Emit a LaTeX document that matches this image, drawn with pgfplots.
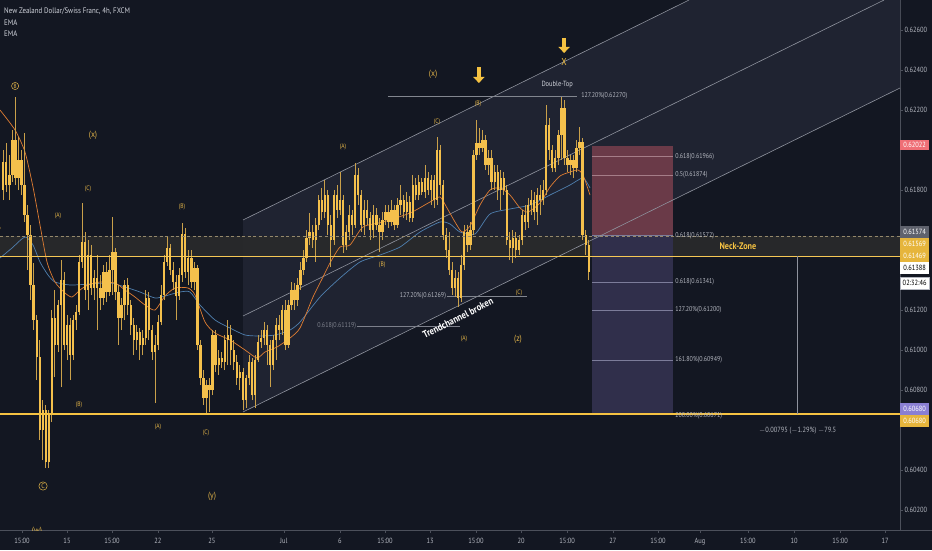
\documentclass[border=0pt]{standalone}
\usepackage{fontspec}
\setmainfont{PT Sans}[FakeStretch=0.86]
\usepackage{pgfplots}
\pgfplotsset{compat=1.18}
\usepackage{pgfplotstable}
\usetikzlibrary{arrows.meta}
\newcommand\fs[1]{\fontsize{#1}{#1}\selectfont}
\definecolor{bg}{HTML}{131722}
\definecolor{chan}{HTML}{1F2331}
\definecolor{band}{HTML}{2A2A2B}
\definecolor{gold}{HTML}{F5C242}
\definecolor{body}{HTML}{F4C04C}
\definecolor{wick}{HTML}{C9A04A}
\definecolor{ema1}{HTML}{E07D32}
\definecolor{ema2}{HTML}{4F7FAE}
\definecolor{chl}{HTML}{8F939E}
\definecolor{txt}{HTML}{D1D4DC}
\definecolor{lbl}{HTML}{B2B5BE}
\definecolor{axc}{HTML}{4C505B}
\definecolor{redr}{HTML}{6A3A48}
\definecolor{bluer}{HTML}{302F4B}
\definecolor{fibr}{HTML}{A57D88}
\definecolor{fibb}{HTML}{7C7C9A}
\definecolor{boxred}{HTML}{EF6F76}
\definecolor{boxgray}{HTML}{5F626D}
\definecolor{boxgold}{HTML}{E6B53C}
\definecolor{boxpur}{HTML}{8A7FD3}
\definecolor{ew}{HTML}{E2B448}
\definecolor{dimlbl}{HTML}{7D808B}

\pgfplotstableread{
i o h l c
-21 0.6180 0.6200 0.6175 0.6194
-20 0.6194 0.62035 0.6179 0.61825
-19 0.61825 0.61975 0.6175 0.61875
-18 0.61875 0.6210 0.6184 0.6205
-17 0.6205 0.62265 0.61825 0.6186
-16 0.6186 0.62065 0.6180 0.6195
-15 0.6195 0.6200 0.61775 0.61825
-14 0.61825 0.62085 0.6164 0.61675
-13 0.61675 0.61725 0.6140 0.61575
-12 0.61575 0.61625 0.6125 0.61325
-11 0.61325 0.61435 0.6110 0.6115
-10 0.6115 0.61175 0.6085 0.60965
-9 0.60965 0.6105 0.6055 0.6060
-8 0.6060 0.6075 0.6045 0.6070
-7 0.6070 0.60725 0.6041 0.6044
-6 0.6044 0.6070 0.6041 0.60675
-5 0.60675 0.6120 0.6064 0.6116
-4 0.6116 0.6130 0.60865 0.61025
-3 0.61025 0.6125 0.6099 0.61225
-2 0.61225 0.6145 0.60815 0.6135
-1 0.6135 0.6139 0.6100 0.61025
0 0.61025 0.61175 0.6095 0.61125
1 0.61125 0.6116 0.6085 0.60975
2 0.60975 0.61175 0.6095 0.6115
3 0.6115 0.61225 0.6110 0.6119
4 0.6119 0.61475 0.61175 0.6144
5 0.6144 0.61735 0.6141 0.6154
6 0.6154 0.6159 0.6125 0.6130
7 0.6130 0.6155 0.6120 0.61475
8 0.61475 0.61525 0.61275 0.6131
9 0.6131 0.6140 0.6125 0.6136
10 0.6136 0.61475 0.6110 0.6131
11 0.6131 0.61375 0.6120 0.6126
12 0.6126 0.61425 0.61225 0.6139
13 0.6139 0.6144 0.6124 0.6129
14 0.6129 0.61475 0.6127 0.6140
15 0.6140 0.61665 0.61275 0.6149
16 0.6149 0.6151 0.6125 0.6129
17 0.6129 0.61325 0.61025 0.6116
18 0.6116 0.6126 0.6110 0.61225
19 0.61225 0.6135 0.6115 0.61325
20 0.61325 0.6136 0.61175 0.61225
21 0.61225 0.6125 0.61075 0.61125
22 0.61125 0.6116 0.60975 0.6105
23 0.6105 0.61125 0.6100 0.6109
24 0.6109 0.6111 0.6095 0.61025
25 0.61025 0.6110 0.60975 0.6106
26 0.6106 0.6130 0.61025 0.6126
27 0.6126 0.6129 0.6105 0.6110
28 0.6110 0.61125 0.6095 0.6099
29 0.6099 0.61075 0.60735 0.61025
30 0.61025 0.61175 0.6100 0.6114
31 0.6114 0.61325 0.61125 0.61275
32 0.61275 0.61475 0.6125 0.6144
33 0.6144 0.61565 0.6142 0.6151
34 0.6151 0.6153 0.61375 0.6140
35 0.6140 0.6144 0.6130 0.6134
36 0.6134 0.61375 0.6115 0.6127
37 0.6127 0.6141 0.6125 0.61375
38 0.61375 0.61635 0.6134 0.6158
39 0.6158 0.6161 0.6136 0.6139
40 0.6139 0.6150 0.61325 0.6146
41 0.6146 0.6150 0.6131 0.6134
42 0.6134 0.6144 0.6130 0.6141
43 0.6141 0.61425 0.6100 0.61025
44 0.61025 0.6105 0.60825 0.6086
45 0.6086 0.6090 0.60725 0.6076
46 0.6076 0.6085 0.60685 0.60825
47 0.60825 0.6086 0.6069 0.6080
48 0.6080 0.6110 0.60775 0.61075
49 0.61075 0.6110 0.6089 0.60925
50 0.60925 0.6100 0.60875 0.6096
51 0.6096 0.6099 0.6091 0.6094
52 0.6094 0.61075 0.6090 0.6105
53 0.6105 0.6115 0.60925 0.61075
54 0.61075 0.61125 0.60925 0.6100
55 0.6100 0.6105 0.6090 0.6094
56 0.6094 0.60975 0.60825 0.6086
57 0.6086 0.60925 0.6080 0.6089
58 0.6089 0.6091 0.6070 0.6075
59 0.6075 0.60875 0.6071 0.6086
60 0.6086 0.60975 0.60825 0.6094
61 0.6094 0.6096 0.6075 0.60775
62 0.60775 0.60975 0.6071 0.6095
63 0.6095 0.61075 0.6094 0.6104
64 0.6104 0.6110 0.6101 0.6106
65 0.6106 0.6114 0.61025 0.6110
66 0.6110 0.61125 0.60925 0.61025
67 0.61025 0.6105 0.60815 0.60925
68 0.60925 0.61075 0.6090 0.6105
69 0.6105 0.6116 0.6095 0.61125
70 0.61125 0.61175 0.6105 0.6110
71 0.6110 0.61225 0.61075 0.6120
72 0.6120 0.6125 0.6100 0.61025
73 0.61025 0.6125 0.6101 0.61225
74 0.61225 0.6134 0.6120 0.6130
75 0.6130 0.61335 0.6120 0.6125
76 0.6125 0.6136 0.6122 0.61325
77 0.61325 0.6144 0.6130 0.6140
78 0.6140 0.6150 0.61375 0.6146
79 0.6146 0.6160 0.6144 0.6156
80 0.6156 0.61685 0.61525 0.6159
81 0.6159 0.61625 0.6151 0.6155
82 0.6155 0.6166 0.6144 0.61625
83 0.61625 0.61775 0.6160 0.6175
84 0.6175 0.6181 0.6165 0.6169
85 0.6169 0.6185 0.6166 0.61775
86 0.61775 0.6180 0.61575 0.61625
87 0.61625 0.61675 0.61415 0.6155
88 0.6155 0.6180 0.61525 0.61775
89 0.61775 0.61825 0.6166 0.6170
90 0.6170 0.6189 0.61675 0.6175
91 0.6175 0.61775 0.61485 0.61525
92 0.61525 0.61625 0.6150 0.6159
93 0.6159 0.61725 0.6155 0.61675
94 0.61675 0.6170 0.61575 0.61625
95 0.61625 0.61935 0.6161 0.61875
96 0.61875 0.6191 0.61725 0.61775
97 0.61775 0.6180 0.6159 0.61625
98 0.61625 0.6175 0.61575 0.6170
99 0.6170 0.6175 0.61625 0.6166
100 0.6166 0.6169 0.6155 0.6160
101 0.6160 0.61725 0.6156 0.61675
102 0.61675 0.6171 0.6160 0.61625
103 0.61625 0.6166 0.6149 0.6159
104 0.6159 0.6169 0.6155 0.6165
105 0.6165 0.61725 0.61625 0.6169
106 0.6169 0.61725 0.6161 0.6164
107 0.6164 0.6175 0.6162 0.6170
108 0.6170 0.61725 0.6160 0.61625
109 0.61625 0.6176 0.6161 0.61725
110 0.61725 0.61825 0.61675 0.6175
111 0.6175 0.61775 0.6166 0.6169
112 0.6169 0.6179 0.6165 0.6174
113 0.6174 0.6177 0.6164 0.6166
114 0.6166 0.61875 0.6164 0.61825
115 0.61825 0.6186 0.6175 0.61775
116 0.61775 0.61875 0.6175 0.6184
117 0.6184 0.6186 0.61775 0.6179
118 0.6179 0.61925 0.6176 0.6186
119 0.6186 0.6189 0.61775 0.6180
120 0.6180 0.61875 0.61725 0.6185
121 0.6185 0.61875 0.6171 0.6175
122 0.6175 0.62065 0.61725 0.6200
123 0.6200 0.62025 0.61775 0.61825
124 0.61825 0.6185 0.6155 0.61575
125 0.61575 0.6161 0.6146 0.6150
126 0.6150 0.6159 0.61375 0.6140
127 0.6140 0.6144 0.61275 0.6131
128 0.6131 0.6140 0.61265 0.6136
129 0.6136 0.6139 0.61215 0.6126
130 0.6126 0.61475 0.6124 0.61425
131 0.61425 0.61625 0.6140 0.6159
132 0.6159 0.61625 0.6149 0.61525
133 0.61525 0.6164 0.6150 0.6160
134 0.6160 0.6200 0.61575 0.61975
135 0.61975 0.6215 0.6195 0.62035
136 0.62035 0.6211 0.61975 0.6201
137 0.6201 0.6210 0.6199 0.6205
138 0.6205 0.62075 0.6190 0.61925
139 0.61925 0.6200 0.61875 0.6196
140 0.6196 0.6200 0.6180 0.6184
141 0.6184 0.61925 0.6180 0.6189
142 0.6189 0.61925 0.6175 0.6180
143 0.6180 0.6190 0.6170 0.6186
144 0.6186 0.6189 0.61775 0.6180
145 0.6180 0.61825 0.61525 0.6155
146 0.6155 0.6159 0.6145 0.6151
147 0.6151 0.6160 0.61435 0.6156
148 0.6156 0.6159 0.6146 0.6150
149 0.6150 0.61575 0.61475 0.6155
150 0.6155 0.6170 0.61525 0.61675
151 0.61675 0.61725 0.6160 0.6164
152 0.6164 0.6176 0.6161 0.61725
153 0.61725 0.6180 0.61675 0.6175
154 0.6175 0.6179 0.6165 0.6169
155 0.6169 0.6181 0.61625 0.61775
156 0.61775 0.61825 0.61675 0.6175
157 0.6175 0.6185 0.61725 0.6180
158 0.6180 0.62225 0.61775 0.62125
159 0.62125 0.6216 0.6195 0.6200
160 0.6200 0.62025 0.6189 0.6191
161 0.6191 0.6200 0.6189 0.6196
162 0.6196 0.6210 0.61925 0.62075
163 0.62075 0.62265 0.6195 0.6221
164 0.6221 0.6225 0.61925 0.6196
165 0.6196 0.6200 0.6189 0.61925
166 0.61925 0.61975 0.61875 0.6195
167 0.6195 0.61975 0.6186 0.6191
168 0.6191 0.6205 0.6189 0.6201
169 0.6201 0.62115 0.61975 0.6204
170 0.6204 0.6206 0.6155 0.61575
171 0.61575 0.6160 0.61475 0.61525
172 0.61525 0.6155 0.6135 0.61388
}\candles

\begin{document}
\begin{tikzpicture}
\fill[bg] (0pt,0pt) rectangle (932pt,550pt);
\begin{axis}[
  at={(0pt,20pt)}, anchor=south west,
  scale only axis, width=900pt, height=530pt,
  xmin=-22.09, xmax=274.64, ymin=0.6010, ymax=0.6275,
  axis x line*=bottom, axis y line*=right,
  clip mode=individual,
  axis line style={draw=axc, line width=0.7pt},
  tick align=outside, major tick length=3pt,
  tick style={draw=axc, line width=0.6pt},
  xtick={-14.84,0,14.84,30,47.8,71.5,90,104.85,119.7,134.85,149.7,164.9,180,194.85,208.7,224.5,239.7,254.9,269.7},
  xticklabels={15:00,15,15:00,22,25,Jul,6,15:00,13,15:00,20,15:00,27,15:00,Aug,15:00,10,15:00,17},
  xticklabel style={font=\fs{7.5}, text=lbl, inner sep=1pt, yshift=-4pt},
  ytick={0.602,0.604,0.608,0.610,0.612,0.618,0.622,0.624,0.626},
  scaled y ticks=false,
  yticklabel style={font=\fs{7.5}, text=lbl, inner sep=1.5pt, /pgf/number format/.cd, fixed, fixed zerofill, precision=5, assume math mode=true},
]
% channel fill
\fill[chan] (axis cs:58.03,0.6165) -- (axis cs:58.03,0.6069) -- (axis cs:274.64,0.6231) -- (axis cs:274.64,0.6275) -- (axis cs:205.1,0.6275) -- cycle;
% neck band
\fill[band, opacity=0.9] (axis cs:-22.09,0.61469) rectangle (axis cs:274.64,0.61569);
% position tool
\fill[redr] (axis cs:173.1,0.61574) rectangle (axis cs:199.8,0.62022);
\fill[bluer] (axis cs:173.1,0.60680) rectangle (axis cs:199.8,0.61574);
\draw[fibr, line width=0.6pt] (axis cs:173.1,0.61966) -- (axis cs:199.8,0.61966);
\draw[fibr, line width=0.6pt] (axis cs:173.1,0.61874) -- (axis cs:199.8,0.61874);
\draw[fibb, line width=0.6pt] (axis cs:173.1,0.61572) -- (axis cs:199.8,0.61572);
\draw[fibb, line width=0.6pt] (axis cs:173.1,0.61341) -- (axis cs:199.8,0.61341);
\draw[fibb, line width=0.6pt] (axis cs:173.1,0.61200) -- (axis cs:199.8,0.61200);
\draw[fibb, line width=0.6pt] (axis cs:173.1,0.60949) -- (axis cs:199.8,0.60949);
% channel lines
\draw[chl, line width=0.6pt] (axis cs:58.03,0.6165) -- (axis cs:205.1,0.6275);
\draw[chl, line width=0.6pt] (axis cs:58.03,0.6117) -- (axis cs:269.4,0.6275);
\draw[chl, line width=0.6pt] (axis cs:58.03,0.6069) -- (axis cs:274.64,0.6231);
% fib lines left
\draw[dimlbl, line width=0.5pt] (axis cs:95.6,0.61119) -- (axis cs:129.6,0.61119);
\draw[lbl!70!bg, line width=0.5pt] (axis cs:125.3,0.61269) -- (axis cs:151.7,0.61269);
\draw[lbl!70!bg, line width=0.5pt] (axis cs:105.8,0.62270) -- (axis cs:168.1,0.62270);
% EMAs
\addplot[ema2, line width=0.7pt, smooth, tension=0.4] coordinates {
(-22.09,0.6146) (-18.13,0.6151) (-13.85,0.61565) (-11.21,0.61525) (-8.90,0.6144) (-6.26,0.61375) (-3.96,0.6134) (0.99,0.61325) (7.58,0.6133) (14.18,0.61335) (19.12,0.61315) (24.07,0.6129) (29.02,0.6126) (32.31,0.6127) (37.26,0.6129) (40.55,0.6129) (43.85,0.61225) (48.80,0.6115) (53.74,0.6111) (58.69,0.61075) (63.63,0.6107) (68.58,0.61075) (73.52,0.6110) (76.82,0.6114) (83.42,0.61265) (90.01,0.6136) (96.60,0.6144) (103.20,0.61475) (109.79,0.61515) (116.39,0.6159) (122.98,0.6164) (126.28,0.6163) (129.57,0.6159) (134.52,0.6158) (139.47,0.6168) (146.06,0.61705) (152.65,0.61725) (159.25,0.61775) (165.84,0.61825) (170.13,0.6186) (172.44,0.6181)};
\addplot[ema1, line width=0.7pt, smooth, tension=0.4] coordinates {
(-22.09,0.6220) (-17.14,0.6210) (-13.85,0.6199) (-11.21,0.61815) (-8.90,0.61625) (-6.59,0.6144) (-3.96,0.6134) (-0.66,0.61285) (1.65,0.61265) (4.29,0.6130) (6.92,0.61325) (10.88,0.6134) (15.83,0.61335) (19.12,0.6130) (22.42,0.61265) (25.72,0.61225) (29.02,0.6120) (32.31,0.6127) (35.61,0.6131) (39.89,0.6131) (42.20,0.61275) (45.50,0.6114) (48.80,0.61085) (53.74,0.6105) (58.69,0.6100) (62.65,0.6096) (65.28,0.6099) (69.24,0.61015) (73.52,0.6106) (76.82,0.6111) (81.11,0.61265) (84.41,0.61365) (86.71,0.61435) (90.01,0.61515) (93.31,0.61525) (97.59,0.61615) (104.19,0.6164) (113.09,0.61685) (119.68,0.6174) (122.98,0.61765) (125.29,0.6171) (127.93,0.6164) (130.23,0.6159) (132.87,0.6162) (136.17,0.61725) (139.47,0.6180) (142.76,0.6181) (146.06,0.61775) (149.36,0.6171) (152.00,0.6169) (155.95,0.61735) (159.25,0.61815) (162.55,0.6187) (165.84,0.6189) (168.48,0.6190) (170.13,0.61875) (172.44,0.61775)};
% candles
\addplot[wick, line width=0.8pt, -, quiver={u=0, v=\thisrow{h}-\thisrow{l}}] table[x=i, y=l] {\candles};
\addplot[body, line width=2.3pt, -, quiver={u=0, v={max(abs(\thisrow{c}-\thisrow{o}),0.00004)}}] table[x=i, y expr={min(\thisrow{o},\thisrow{c})}] {\candles};
% neck lines and target line
\draw[lbl!60!gold!70!bg, line width=0.7pt, dash pattern=on 3pt off 2.5pt] (axis cs:-22.09,0.61569) -- (axis cs:274.64,0.61569);
\draw[gold!90!white, line width=0.8pt] (axis cs:-22.09,0.61469) -- (axis cs:274.64,0.61469);
\draw[gold, line width=2pt] (axis cs:-22.09,0.60680) -- (axis cs:274.64,0.60680);
\draw[chl, line width=0.5pt] (axis cs:240.7,0.61469) -- (axis cs:240.7,0.60680);
% labels
\node[anchor=west, text=txt, font=\fs{8}, inner sep=0pt] at (axis cs:-20.77,0.62695) {New Zealand Dollar/Swiss Franc, 4h, FXCM};
\node[anchor=west, text=txt, font=\fs{8}, inner sep=0pt] at (axis cs:-20.77,0.62635) {EMA};
\node[anchor=west, text=txt, font=\fs{8}, inner sep=0pt] at (axis cs:-20.77,0.62580) {EMA};
\node[text=gold, font=\bfseries\fs{9.5}, inner sep=0pt] at (axis cs:221.2,0.61519) {Neck-Zone};
\node[text=lbl, font=\fs{7.5}, inner sep=0pt] at (axis cs:240.9,0.60595) {$-$0.00795 ($-$1.29\%) $-$79.5};
\node[text=white, font=\bfseries\fs{10}, rotate=26.6, inner sep=0pt] at (axis cs:128.9,0.6116) {Trendchannel broken};
\node[text=txt, font=\fs{7.5}, inner sep=0pt] at (axis cs:161.6,0.62325) {Double-Top};
\node[anchor=west, text=lbl, font=\fs{7}, inner sep=0pt] at (axis cs:169.5,0.62270) {127.20\%(0.62270)};
\node[anchor=east, text=lbl, font=\fs{7}, inner sep=0pt] at (axis cs:125.0,0.61269) {127.20\%(0.61269)};
\node[anchor=east, text=dimlbl, font=\fs{7}, inner sep=0pt] at (axis cs:95.4,0.61119) {0.618(0.61119)};
\node[anchor=west, text=lbl, font=\fs{7}, inner sep=0pt] at (axis cs:200.5,0.61966) {0.618(0.61966)};
\node[anchor=west, text=lbl, font=\fs{7}, inner sep=0pt] at (axis cs:200.5,0.61874) {0.5(0.61874)};
\node[anchor=west, text=lbl, font=\fs{7}, inner sep=0pt] at (axis cs:200.5,0.61572) {0.618(0.61572)};
\node[anchor=west, text=lbl, font=\fs{7}, inner sep=0pt] at (axis cs:200.5,0.61341) {0.618(0.61341)};
\node[anchor=west, text=lbl, font=\fs{7}, inner sep=0pt] at (axis cs:200.5,0.61200) {127.20\%(0.61200)};
\node[anchor=west, text=lbl, font=\fs{7}, inner sep=0pt] at (axis cs:200.5,0.60949) {161.80\%(0.60949)};
\node[anchor=west, text=lbl, font=\fs{7}, inner sep=0pt] at (axis cs:200.5,0.60671) {200.00\%(0.60671)};
% arrows and X
\draw[gold, line width=4.5pt, -{Triangle[width=11pt,length=6pt]}] (axis cs:135.8,0.62415) -- (axis cs:135.8,0.62335);
\draw[gold, line width=4.5pt, -{Triangle[width=11pt,length=6pt]}] (axis cs:163.9,0.62560) -- (axis cs:163.9,0.62485);
\node[text=gold, font=\fs{10}, inner sep=0pt] at (axis cs:163.9,0.6244) {X};
% Elliott labels
\node[text=ew, font=\fs{9}, inner sep=0pt] at (axis cs:8.57,0.62075) {(x)};
\node[text=ew, font=\fs{9}, inner sep=0pt] at (axis cs:120.7,0.6238) {(x)};
\node[text=ew, font=\fs{9}, inner sep=0pt] at (axis cs:148.7,0.61055) {(z)};
\node[text=ew, font=\fs{9}, inner sep=0pt] at (axis cs:47.8,0.6027) {(y)};
\begin{scope}
\clip (axis cs:-22.09,0.6010) rectangle (axis cs:274.64,0.6275);
\node[text=ew, font=\fs{9}, inner sep=0pt] at (axis cs:-9.9,0.60095) {(w)};
\end{scope}
\node[text=ew, font=\fs{6.5}, inner sep=0pt] at (axis cs:6.92,0.61805) {(C)};
\node[text=ew, font=\fs{6.5}, inner sep=0pt] at (axis cs:-2.97,0.6167) {(A)};
\node[text=ew, font=\fs{6.5}, inner sep=0pt] at (axis cs:37.9,0.61715) {(B)};
\node[text=ew, font=\fs{6.5}, inner sep=0pt] at (axis cs:91.0,0.62015) {(A)};
\node[text=ew, font=\fs{6.5}, inner sep=0pt] at (axis cs:122.0,0.6214) {(C)};
\node[text=ew, font=\fs{6.5}, inner sep=0pt] at (axis cs:135.5,0.6223) {(B)};
\node[text=ew, font=\fs{6.5}, inner sep=0pt] at (axis cs:103.9,0.61425) {(B)};
\node[text=ew, font=\fs{6.5}, inner sep=0pt] at (axis cs:130.9,0.61055) {(A)};
\node[text=ew, font=\fs{6.5}, inner sep=0pt] at (axis cs:149.0,0.61285) {(C)};
\node[text=ew, font=\fs{6.5}, inner sep=0pt] at (axis cs:3.96,0.60725) {(B)};
\node[text=ew, font=\fs{6.5}, inner sep=0pt] at (axis cs:30.0,0.60615) {(A)};
\node[text=ew, font=\fs{6.5}, inner sep=0pt] at (axis cs:45.8,0.60585) {(C)};
\node[text=ew, draw=ew, circle, line width=0.5pt, font=\fs{6}, inner sep=0.7pt] at (axis cs:-17.1,0.6232) {B};
\node[text=ew, draw=ew, circle, line width=0.5pt, font=\fs{7}, inner sep=0.8pt] at (axis cs:-7.9,0.6032) {C};
\node[text=ew, draw=ew, circle, line width=0.5pt, font=\fs{6}, inner sep=0.7pt] at (axis cs:-23.2,0.6161) {A};
% price axis boxes
\node[anchor=west, fill=boxred, text=white, font=\fs{7.5}, minimum width=29pt, minimum height=10.5pt, inner sep=0pt] at (axis cs:274.64,0.62025) {0.62022};
\node[anchor=west, fill=boxgray, text=white, font=\fs{7.5}, minimum width=29pt, minimum height=11.5pt, inner sep=0pt] at (axis cs:274.64,0.61590) {0.61574};
\node[anchor=west, fill=boxgold, text=white, font=\fs{7.5}, minimum width=29pt, minimum height=11.5pt, inner sep=0pt] at (axis cs:274.64,0.61530) {0.61569};
\node[anchor=west, fill=boxgold, text=white, font=\fs{7.5}, minimum width=29pt, minimum height=11.5pt, inner sep=0pt] at (axis cs:274.64,0.61470) {0.61469};
\node[anchor=west, fill=white, text=black, font=\fs{7.5}, minimum width=29pt, minimum height=11.5pt, inner sep=0pt] at (axis cs:274.64,0.61410) {0.61388};
\node[anchor=west, fill=white, draw=lbl, text=black, font=\fs{7.5}, minimum width=29pt, minimum height=11.5pt, inner sep=0pt] at (axis cs:274.64,0.61335) {02:32:46};
\node[anchor=west, fill=boxpur, text=white, font=\fs{7.5}, minimum width=29pt, minimum height=11.5pt, inner sep=0pt] at (axis cs:274.64,0.60705) {0.60680};
\node[anchor=west, fill=boxgold, text=white, font=\fs{7.5}, minimum width=29pt, minimum height=11.5pt, inner sep=0pt] at (axis cs:274.64,0.60645) {0.60680};
\draw[axc, line width=0.7pt] (axis cs:274.64,0.6010) -- ++(40pt,0pt);
\end{axis}
\pgfresetboundingbox
\useasboundingbox (0pt,0pt) rectangle (932pt,550pt);
\end{tikzpicture}
\end{document}
